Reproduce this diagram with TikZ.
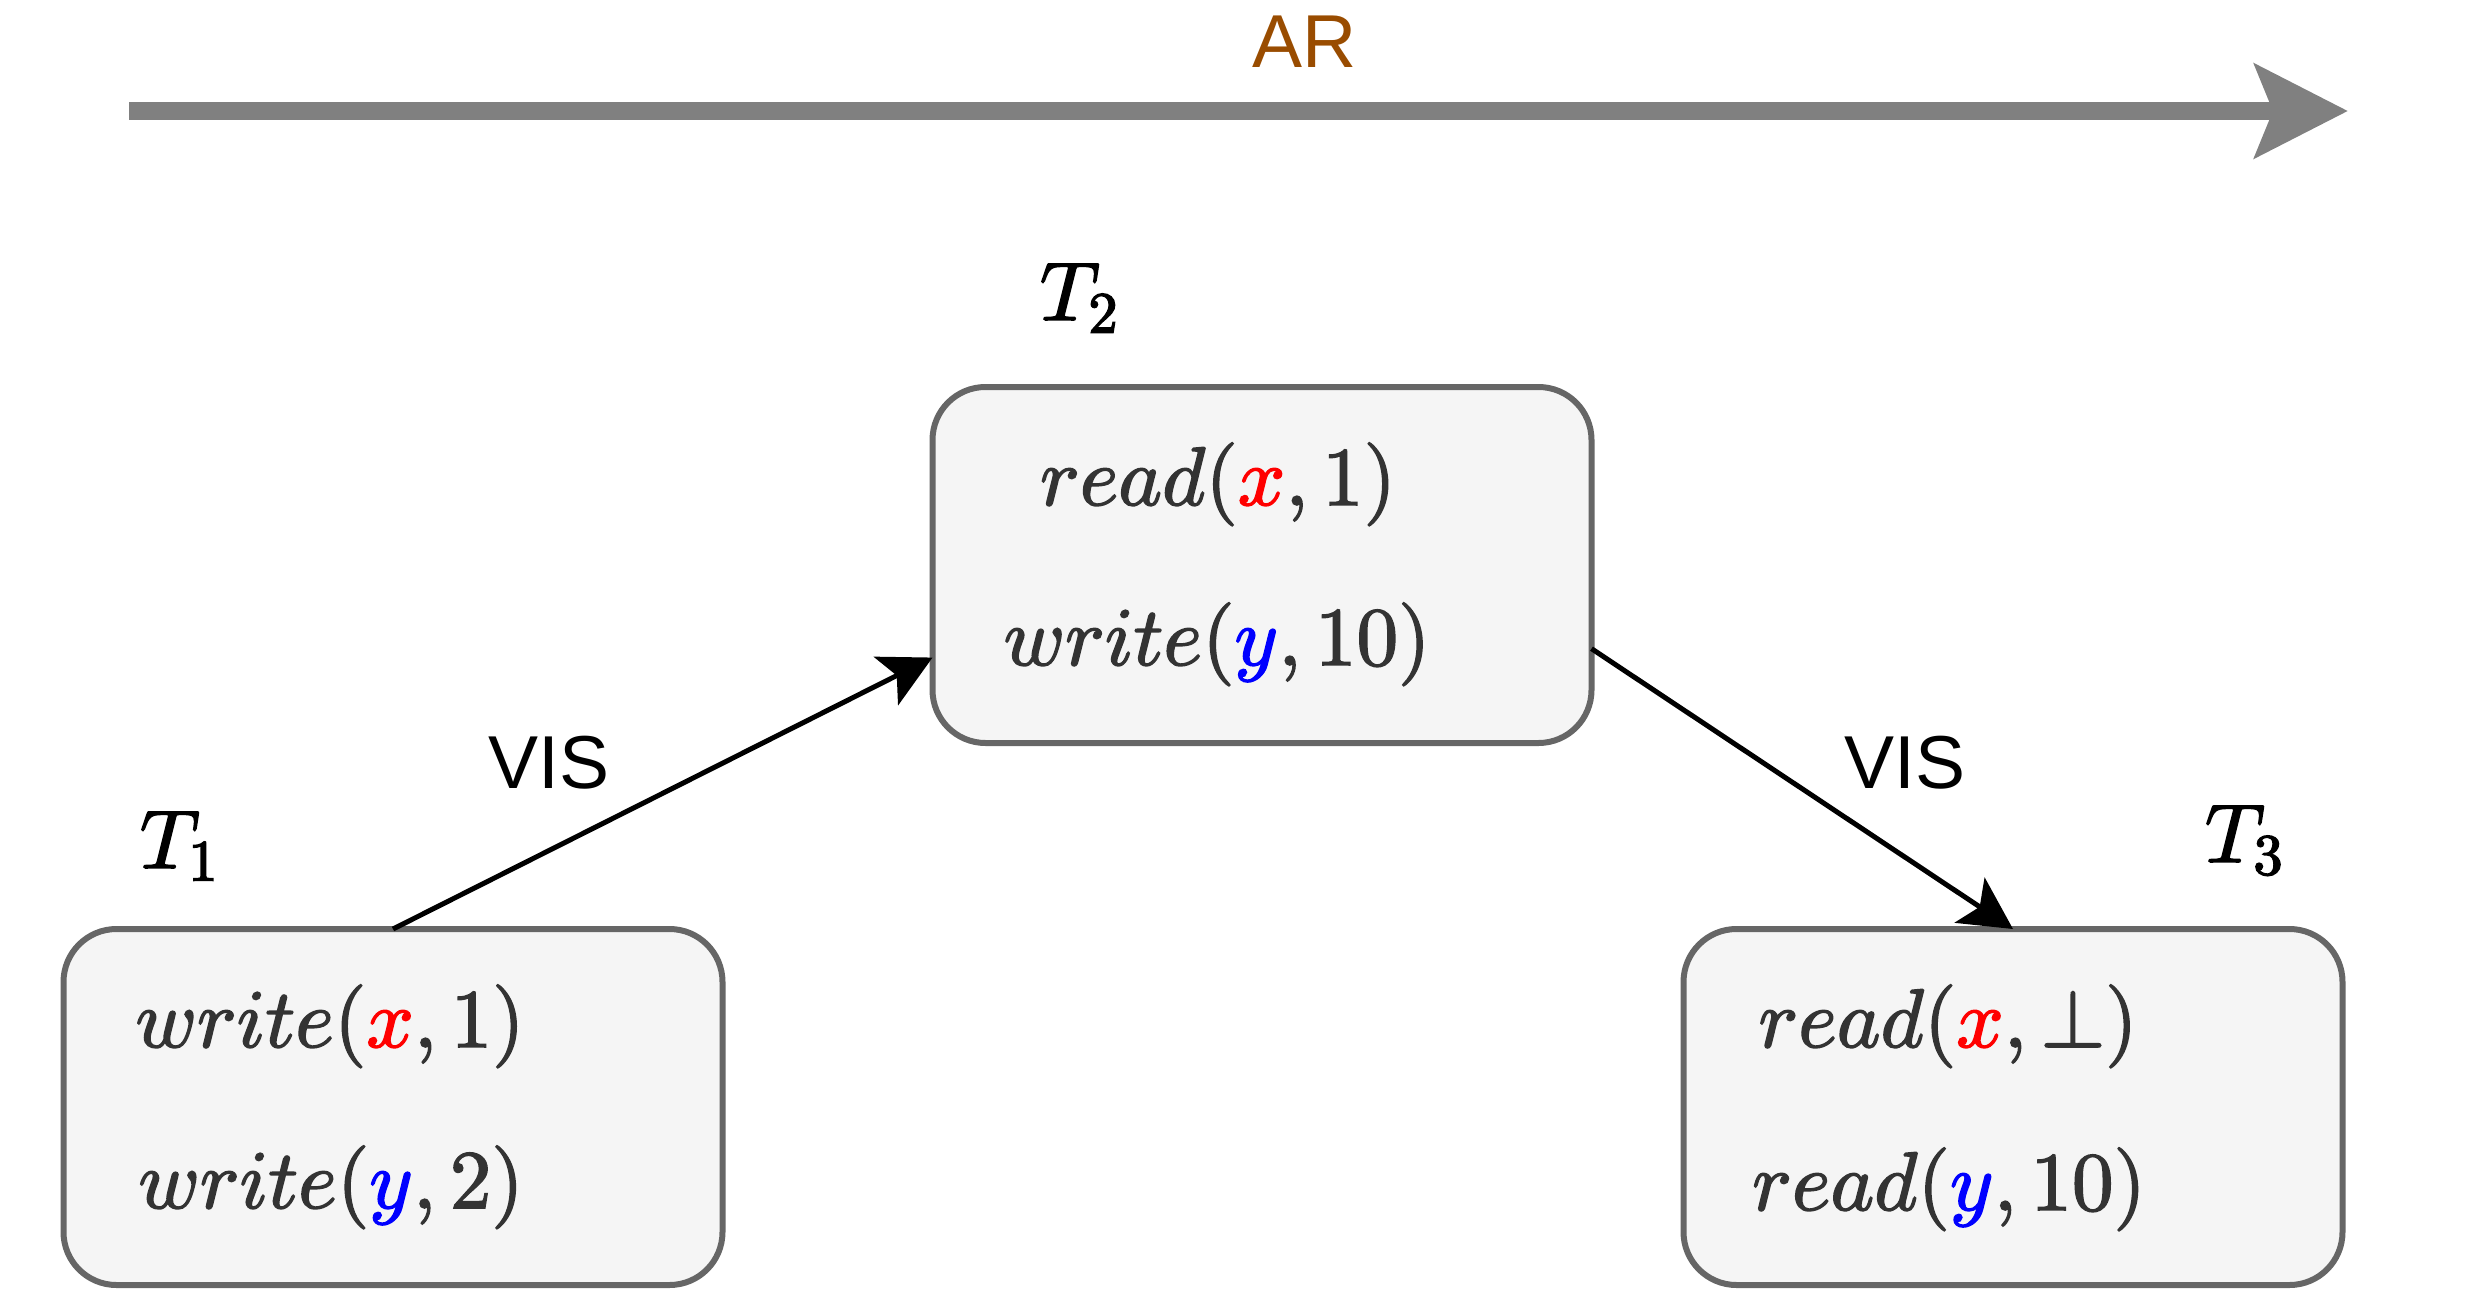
\RequirePackage{fix-cm}
\documentclass[tikz,border=0pt]{standalone}
\usepackage[no-math]{fontspec}
\newfontfamily\helv{Liberation Sans}
\DeclareFontShape{OML}{cmm}{m}{it}{<-> cmmi10}{}
\DeclareFontShape{OT1}{cmr}{m}{n}{<-> cmr10}{}
\DeclareFontShape{OMS}{cmsy}{m}{n}{<-> cmsy10}{}
\newcommand\heavytext[1]{\special{pdf:literal direct 2 Tr 1.6 w}#1\special{pdf:literal direct 0 Tr}}
\usetikzlibrary{arrows.meta,calc}
\definecolor{boxfill}{HTML}{F5F5F5}
\definecolor{boxline}{HTML}{666666}
\definecolor{optext}{HTML}{333333}
\definecolor{arcol}{HTML}{994C00}
\definecolor{argray}{HTML}{808080}
\definecolor{xred}{HTML}{FF0000}
\definecolor{yblue}{HTML}{0000FF}
\begin{document}
\begin{tikzpicture}[x=1pt,y=-1pt,
  txbox/.style={draw=boxline, fill=boxfill, line width=6pt, rounded corners=53pt,
    minimum width=659pt, minimum height=356pt, inner sep=0pt, outer sep=0pt},
  optxt/.style={font=\fontsize{83pt}{100pt}\selectfont, text=optext, inner sep=0pt, anchor=base},
  tlabel/.style={font=\fontsize{83pt}{100pt}\selectfont, text=black, inner sep=0pt, anchor=base},
  edgelabel/.style={font=\helv\fontsize{75pt}{90pt}\selectfont, text=black, inner sep=0pt, anchor=base},
  visarrow/.style={draw=black, line width=5pt, -{Stealth[length=52pt,width=54pt,inset=12pt]}},
  ararrow/.style={draw=argray, line width=18pt, -{Stealth[length=93pt,width=93pt,inset=18pt]}}
]
\useasboundingbox (0,0) rectangle (2478,1290);

% AR timeline
\coordinate (arstart) at (129,111);
\coordinate (arend) at (2348,111);
\draw[ararrow] (arstart) -- (arend);
\node[edgelabel, text=arcol] (arlabel) at (1305,67) {AR};

% boxes
\node[txbox] (t1) at (393,1107) {};
\node[txbox] (t2) at (1262,565) {};
\node[txbox] (t3) at (2013,1107) {};

% box contents
\node[optxt] (t1a) at (330,1047) {\heavytext{$write({\color{xred}x},1)$}};
\node[optxt] (t1b) at (331,1208) {\heavytext{$write({\color{yblue}y},2)$}};
\node[optxt] (t2a) at (1218,505) {\heavytext{$read({\color{xred}x},1)$}};
\node[optxt] (t2b) at (1217,665) {\heavytext{$write({\color{yblue}y},10)$}};
\node[optxt] (t3a) at (1948,1047) {\heavytext{$read({\color{xred}x},\perp)$}};
\node[optxt] (t3b) at (1949,1210) {\heavytext{$read({\color{yblue}y},10)$}};

% transaction labels
\node[tlabel] (lt1) at (179,868) {\heavytext{$T_1$}};
\node[tlabel] (lt2) at (1079,320) {\heavytext{$T_2$}};
\node[tlabel] (lt3) at (2244,862) {\heavytext{$T_3$}};

% VIS edges
\coordinate (t2in) at ($(t2.north west)!0.76!(t2.south west)$);
\coordinate (t2out) at ($(t2.north east)!0.735!(t2.south east)$);
\draw[visarrow] (t1.north) -- (t2in);
\draw[visarrow] (t2out) -- (t3.north);
\node[edgelabel] (vis1) at (549,788) {VIS};
\node[edgelabel] (vis2) at (1905,788) {VIS};
\end{tikzpicture}
\end{document}
